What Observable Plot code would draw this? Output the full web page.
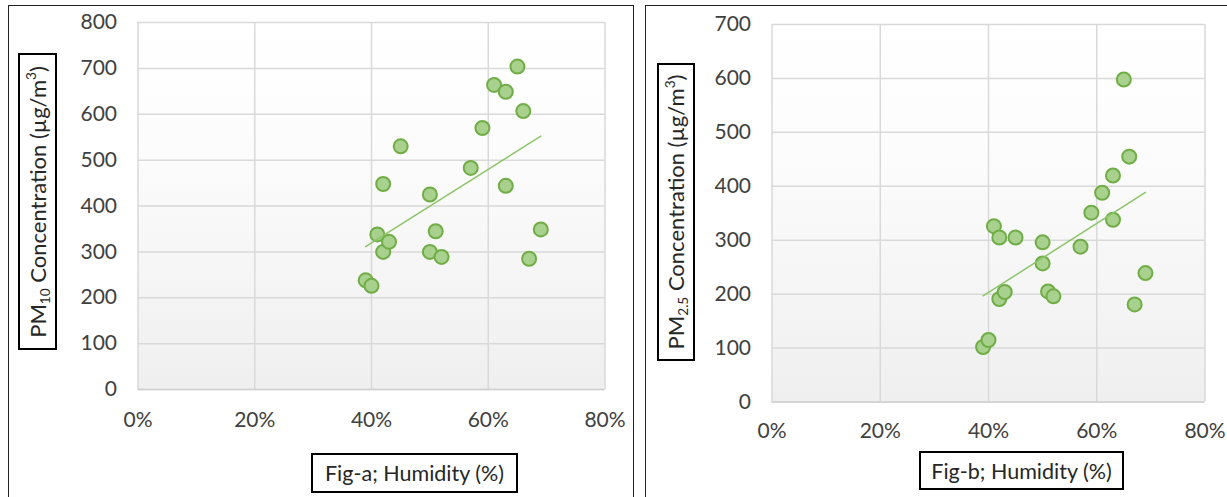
<!DOCTYPE html>
<html>
<head>
<meta charset="utf-8">
<script src="https://cdn.jsdelivr.net/npm/d3@7"></script>
<script src="https://cdn.jsdelivr.net/npm/@observablehq/plot@0.6"></script>
<style>
  html, body { margin: 0; padding: 0; background: #fff; }
  #root { position: relative; width: 1227px; height: 497px; overflow: hidden; font-family: Lato, "Open Sans", sans-serif; }
  .panel { position: absolute; box-sizing: border-box; border: 1.5px solid #222; border-bottom: none; }
  .chart { position: absolute; top: 0; }
  .ytitle { position: absolute; box-sizing: border-box; border: 2px solid #000; display: flex; align-items: center; justify-content: center; }
  .ytitle span { display: block; transform: rotate(-90deg); font-size: 22px; color: #262626; white-space: nowrap; line-height: 1; }
  .xtitle { position: absolute; box-sizing: border-box; border: 2px solid #000; display: flex; align-items: center; justify-content: center; font-size: 21.5px; color: #262626; white-space: nowrap; }
  sub, sup { font-size: 0.62em; line-height: 0; }
  sub { vertical-align: -0.3em; }
  sup { vertical-align: 0.7em; }
</style>
</head>
<body>
<div id="root">
  <div class="panel" style="left:8px; top:5px; width:626px; height:500px;"></div>
  <div class="panel" style="left:645px; top:5px; width:590px; height:500px;"></div>
  <div class="chart" id="chartA" style="left:0px;"></div>
  <div class="chart" id="chartB" style="left:640px;"></div>
  <div class="ytitle" style="left:18px; top:53px; width:39px; height:297px;"><span>PM<sub>10</sub> Concentration (µg/m<sup>3</sup>)</span></div>
  <div class="ytitle" style="left:657px; top:63px; width:38px; height:298px;"><span>PM<sub>2.5</sub> Concentration (µg/m<sup>3</sup>)</span></div>
  <div class="xtitle" style="left:311px; top:453px; width:207px; height:40px;">Fig-a; Humidity (%)</div>
  <div class="xtitle" style="left:919px; top:451px; width:205px; height:39px;">Fig-b; Humidity (%)</div>
</div>
<script>
// Relative humidity (%) of each sample
const humidity = [39, 40, 41, 42, 42, 43, 45, 50, 50, 51, 52, 57, 59, 61, 63, 63, 65, 66, 67, 69];
// PM10 concentration (µg/m3)
const pm10 = [238, 226, 338, 448, 300, 322, 530, 425, 300, 345, 289, 483, 570, 664, 649, 444, 704, 607, 285, 349];
// PM2.5 concentration (µg/m3)
const pm25 = [102, 115, 326, 305, 191, 204, 305, 296, 257, 205, 196, 288, 351, 388, 420, 338, 598, 455, 181, 239];

const xTicks = [0, 0.2, 0.4, 0.6, 0.8];
const yTicksA = [0, 100, 200, 300, 400, 500, 600, 700, 800];
const yTicksB = [0, 100, 200, 300, 400, 500, 600, 700];

const dataA = humidity.map((h, i) => ({h: h / 100, v: pm10[i]}));
const dataB = humidity.map((h, i) => ({h: h / 100, v: pm25[i]}));

function makeChart(data, yTicks, gradId, opts) {
  const svg = Plot.plot({
    width: opts.width,
    height: 450,
    marginLeft: opts.ml,
    marginRight: opts.mr,
    marginTop: opts.mt,
    marginBottom: opts.mb,
    style: {background: "transparent", fontFamily: "Lato, 'Open Sans', sans-serif", fontSize: "21px", color: "#404040", overflow: "visible"},
    x: {domain: [0, 0.8], ticks: xTicks, tickFormat: d3.format(".0%"), label: null},
    y: {domain: [0, yTicks[yTicks.length - 1]], ticks: yTicks, label: null},
    marks: [
      Plot.frame({fill: `url(#${gradId})`, stroke: null}),
      Plot.gridX(xTicks, {stroke: "#d9d9d9", strokeOpacity: 1, strokeWidth: 1.5}),
      Plot.gridY(yTicks, {stroke: "#d9d9d9", strokeOpacity: 1, strokeWidth: 1.5}),
      Plot.ruleY([0], {stroke: "#d0d0d0", strokeWidth: 1.5}),
      Plot.axisX(xTicks, {tickSize: 0, tickPadding: opts.xpad, tickFormat: d3.format(".0%"), fill: "#404040", label: null}),
      Plot.axisY(yTicks, {tickSize: 0, tickPadding: opts.ypad, fill: "#404040", label: null}),
      Plot.dot(data, {x: "h", y: "v", r: 7, fill: "#a9d18e", stroke: "#70ad47", strokeWidth: 2}),
      Plot.linearRegressionY(data, {x: "h", y: "v", stroke: "#8cc46a", strokeWidth: 1.5, ci: 0})
    ]
  });
  const defs = d3.select(svg).insert("defs", ":first-child");
  const g = defs.append("linearGradient").attr("id", gradId).attr("x1", 0).attr("y1", 0).attr("x2", 0).attr("y2", 1);
  g.append("stop").attr("offset", "0%").attr("stop-color", "#ffffff");
  g.append("stop").attr("offset", "35%").attr("stop-color", "#fcfcfc");
  g.append("stop").attr("offset", "100%").attr("stop-color", "#efefef");
  return svg;
}

document.getElementById("chartA").append(
  makeChart(dataA, yTicksA, "gradA", {width: 640, ml: 137.5, mr: 35.5, mt: 22, mb: 61, xpad: 23, ypad: 21})
);
document.getElementById("chartB").append(
  makeChart(dataB, yTicksB, "gradB", {width: 587, ml: 131.5, mr: 22.5, mt: 24, mb: 48.5, xpad: 21, ypad: 21})
);
</script>
</body>
</html>
